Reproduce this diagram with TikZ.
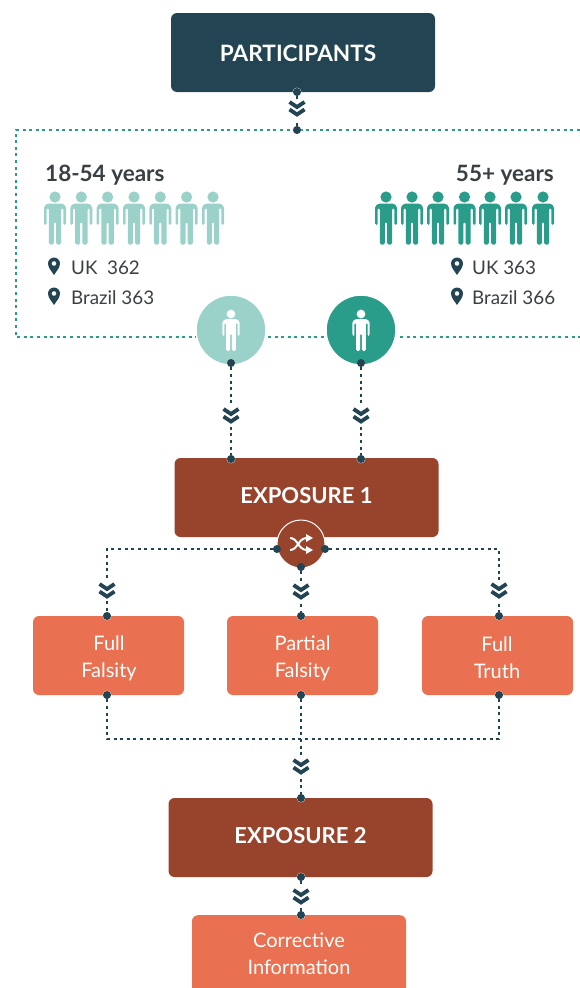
\documentclass[tikz,border=0pt]{standalone}
\usepackage{fontspec}
\setmainfont{Lato}
\begin{document}
\begin{tikzpicture}[x=1pt,y=-1pt,
  box/.style={draw=none,rounded corners=6pt,inner sep=0pt,align=center,text=white},
  navybox/.style={box,fill=navyc,font=\fontsize{22.6}{26}\selectfont\bfseries},
  brownbox/.style={box,fill=brownc,font=\fontsize{22}{26}\selectfont\bfseries},
  orangebox/.style={box,fill=orangec},
  orangetext/.style={font=\fontsize{20}{27}\selectfont,text=white,align=center,inner sep=0pt},
  dotc/.style={circle,fill=navyc,draw=white,line width=.6pt,minimum size=8pt,inner sep=0pt},
  link/.style={navyc,line width=2.4pt,dash pattern=on 3pt off 3.6pt},
  frame/.style={tealc,line width=1.8pt,dash pattern=on 3pt off 3.6pt},
  chev/.style={navyc,line width=3.8pt,line join=miter},
  agebig/.style={font=\fontsize{22.5}{26}\selectfont\bfseries,text=inkc,inner sep=0pt},
  cnt/.style={font=\fontsize{18.8}{22}\selectfont,text=inkc,inner sep=0pt,anchor=west},
  person/.pic={
    \fill (0,0) circle (5.6);
    \fill[rounded corners=1.5pt] (-11,28) -- (-11,9.5) -- (-7.5,6.5) -- (7.5,6.5) -- (11,9.5) -- (11,28) -- (8.4,28) -- (8.4,11) -- (6.2,11)
      -- (6.2,47.5) -- (1.1,47.5) -- (1.1,25) -- (-1.1,25) -- (-1.1,47.5) -- (-6.2,47.5) -- (-6.2,11) -- (-8.4,11) -- (-8.4,28) -- cycle;
  },
  pin/.pic={
    \fill[navyc,even odd rule] (0,9) .. controls (-2,5.5) and (-6,2) .. (-6,-2.5) .. controls (-6,-6) and (-3,-8.5) .. (0,-8.5)
      .. controls (3,-8.5) and (6,-6) .. (6,-2.5) .. controls (6,2) and (2,5.5) .. (0,9) -- cycle
      (0,-2.5) circle (2.4);
  },
  chevrons/.pic={
    \fill[white] (-9,-10) rectangle (9,10);
    \draw[chev] (-7.5,-7) -- (0,-2) -- (7.5,-7);
    \draw[chev] (-7.5,0.5) -- (0,5.5) -- (7.5,0.5);
  }]
\definecolor{navyc}{HTML}{234452}
\definecolor{brownc}{HTML}{98432C}
\definecolor{orangec}{HTML}{E97051}
\definecolor{lightc}{HTML}{9AD1C9}
\definecolor{tealc}{HTML}{2A9D8A}
\definecolor{inkc}{HTML}{3A3F44}
\useasboundingbox (0,0) rectangle (580,988);
\clip (0,0) rectangle (580,988);

% dotted frame
\draw[frame] (580,130) -- (16,130) -- (16,337) -- (580,337);

% boxes
\node[navybox,minimum width=264pt,minimum height=79pt] (part) at (303,52.5) {};
\node[navybox] (partt) at (298,53.5) {PARTICIPANTS};
\node[brownbox,minimum width=264pt,minimum height=79pt] (exp1) at (306.5,497.5) {};
\node[brownbox] (exp1t) at (306.5,496) {EXPOSURE 1};
\node[orangebox,minimum width=151pt,minimum height=79pt] (ff) at (108.5,655.5) {};
\node[orangebox,minimum width=151pt,minimum height=79pt] (pf) at (302.5,655.5) {};
\node[orangebox,minimum width=151pt,minimum height=79pt] (ft) at (497.5,655.5) {};
\node[orangetext] (fft) at (109,658) {Full\\Falsity};
\node[orangetext] (pft) at (302.5,658) {Partial\\Falsity};
\node[orangetext] (ftt) at (497,658) {Full\\Truth};
\node[brownbox,minimum width=264pt,minimum height=79pt] (exp2) at (300.5,837.5) {};
\node[brownbox] (exp2t) at (300.5,835.5) {EXPOSURE 2};
\node[orangebox,minimum width=214pt,minimum height=93pt,anchor=north] (corr) at (299,915) {};
\node[orangetext] (corrt) at (299,954) {Corrective\\Information};

% connector end points
\node[dotc] (a1) at (297,92) {};
\node[dotc] (a2) at (297,130) {};
\node[dotc] (b1) at (231,363) {};
\node[dotc] (b2) at (231,459) {};
\node[dotc] (d1) at (361,363) {};
\node[dotc] (d2) at (361,459) {};
\node[dotc] (s1) at (277,549) {};
\node[dotc] (s2) at (325,549) {};
\node[dotc] (s3) at (301,567) {};
\node[dotc] (f1) at (107,616) {};
\node[dotc] (f2) at (301,616) {};
\node[dotc] (f3) at (499,616) {};
\node[dotc] (g1) at (107,695) {};
\node[dotc] (g2) at (301,695) {};
\node[dotc] (g3) at (499,695) {};
\node[dotc] (h1) at (301,798) {};
\node[dotc] (i1) at (301,877) {};
\node[dotc] (i2) at (301,915) {};
\coordinate (j1) at (107,739);
\coordinate (j2) at (499,739);

% circles
\node[circle,fill=lightc,draw=white,line width=1.5pt,minimum size=70pt,inner sep=0pt] (c1) at (231,330) {};
\node[circle,fill=tealc,draw=white,line width=1.5pt,minimum size=70pt,inner sep=0pt] (c2) at (361,330) {};
\pic[white,scale=.78] at (231,314) {person};
\pic[white,scale=.78] at (361,314) {person};
\node[circle,fill=brownc,draw=white,line width=1pt,minimum size=48pt,inner sep=0pt] (sh) at (301,544) {};
% shuffle icon
\begin{scope}[shift={(301,544)},white,line width=2pt]
  \draw (-11,-6) .. controls (-3,-6) and (-3,6) .. (6,6);
  \draw (-11,6) .. controls (-3,6) and (-3,-6) .. (6,-6);
  \fill (5,-10) -- (12,-6) -- (5,-2) -- cycle;
  \fill (5,2) -- (12,6) -- (5,10) -- cycle;
\end{scope}

% connectors
\draw[link] (a1) -- (a2);
\draw[link] (b1) -- (b2);
\draw[link] (d1) -- (d2);
\draw[link] (s1) -| (f1);
\draw[link] (s2) -| (f3);
\draw[link] (s3) -- (f2);
\draw[link] (g1) -- (j1) -- (j2) -- (g3);
\draw[link] (g2) -- (h1);
\draw[link] (i1) -- (i2);
% redraw dots over the lines
\foreach \n in {a1,a2,b1,b2,d1,d2,s1,s2,s3,f1,f2,f3,g1,g2,g3,h1,i1,i2}
  \fill[navyc] (\n) circle (4);

% chevrons
\pic at (297,109) {chevrons};
\pic at (231,416) {chevrons};
\pic at (361,416) {chevrons};
\pic at (107,591) {chevrons};
\pic at (301,592) {chevrons};
\pic at (499,591) {chevrons};
\pic at (301,767) {chevrons};
\pic at (301,897) {chevrons};

% groups
\node[agebig,anchor=west] (age1) at (45,175.5) {18-54 years};
\node[agebig,anchor=east] (age2) at (554,175.5) {55+ years};
\foreach \x in {55,81.3,107.6,134,160.3,186.6,213}
  \pic[lightc] at (\x,197) {person};
\foreach \x in {386,412,438,464.5,490,516,543}
  \pic[tealc] at (\x,197) {person};

\pic at (54,266) {pin};
\pic at (54,296) {pin};
\pic at (457,266) {pin};
\pic at (457,296) {pin};
\node[cnt] (t1) at (71,268) {UK\ \ 362};
\node[cnt] (t2) at (71,298) {Brazil 363};
\node[cnt] (t3) at (472,268) {UK 363};
\node[cnt] (t4) at (472,298) {Brazil 366};
\end{tikzpicture}
\end{document}
